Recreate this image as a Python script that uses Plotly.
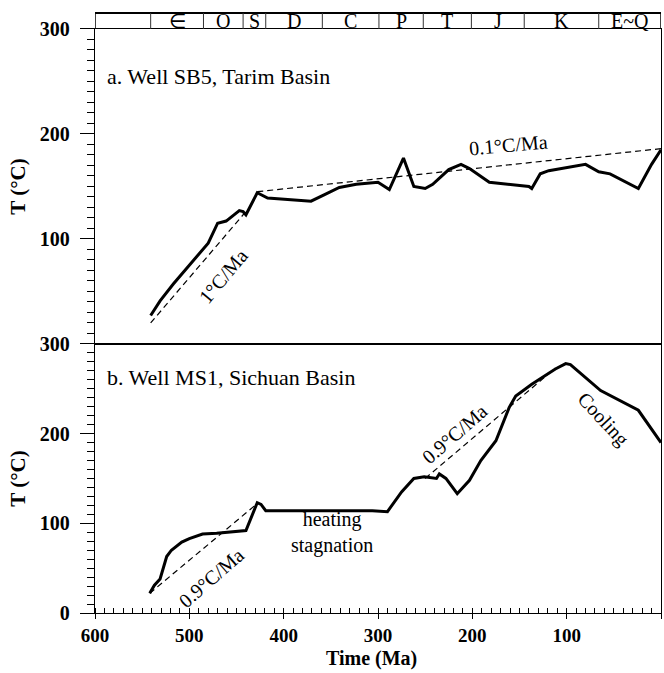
import plotly.graph_objects as go

# Well SB5, Tarim Basin: thermal history (time in Ma, temperature in °C)
sb5_time = [541, 531, 517, 503, 491, 480, 470, 461, 447, 443, 440, 428, 417, 371,
            355, 341, 323, 300, 288, 273, 262, 250, 242, 225, 212, 203, 182, 161,
            140, 137, 128, 119, 101, 80, 66, 54, 24, 10, 0]
sb5_temp = [27, 41, 57, 72, 85, 96, 115, 117, 127, 126, 123, 144, 139, 136,
            143, 149, 152, 154, 147, 177, 150, 148, 152, 166, 171, 167, 154, 152,
            150, 148, 162, 165, 168, 171, 164, 162, 148, 171, 185]

# Well MS1, Sichuan Basin: thermal history
ms1_time = [542, 537, 531, 527, 524, 519, 508, 500, 486, 471, 440, 428, 424, 419,
            376, 306, 290, 275, 262, 251, 238, 235, 228, 216, 203, 191, 175, 165,
            161, 154, 137, 112, 101, 96, 64, 24, 0]
ms1_temp = [22, 31, 38, 51, 63, 70, 79, 83, 88, 89, 92, 123, 121, 114,
            114, 114, 113, 135, 150, 152, 150, 155, 150, 133, 148, 170, 192, 218,
            229, 242, 255, 272, 278, 277, 248, 226, 190]

# Heating-rate trend lines (time, temperature)
sb5_fast_t = [541, 442]
sb5_fast_T = [20, 124]
sb5_slow_t = [428, 0]
sb5_slow_T = [145, 186]
ms1_early_t = [542, 428]
ms1_early_T = [22, 122]
ms1_late_t = [250, 112]
ms1_late_T = [150, 273]

# Geological periods: boundaries (Ma) and labels
period_bounds = [600, 541, 485, 443, 419, 359, 299, 252, 201, 145, 66, 0]
period_labels = ["", "\u2208", "O", "S", "D", "C", "P", "T", "J", "K", "E~Q"]

SERIF = "Liberation Serif, Times New Roman, serif"
BAR_BOTTOM = 0.9734
SPLIT = 0.4485

fig = go.Figure()

curve = dict(color="black", width=3)
dash = dict(color="black", width=1.2, dash="6px,4px")

fig.add_trace(go.Scatter(x=sb5_time, y=sb5_temp, mode="lines", line=curve,
                         xaxis="x2", yaxis="y2"))
fig.add_trace(go.Scatter(x=sb5_fast_t, y=sb5_fast_T, mode="lines", line=dash,
                         xaxis="x2", yaxis="y2"))
fig.add_trace(go.Scatter(x=sb5_slow_t, y=sb5_slow_T, mode="lines", line=dash,
                         xaxis="x2", yaxis="y2"))
fig.add_trace(go.Scatter(x=ms1_time, y=ms1_temp, mode="lines", line=curve,
                         xaxis="x", yaxis="y"))
fig.add_trace(go.Scatter(x=ms1_early_t, y=ms1_early_T, mode="lines", line=dash,
                         xaxis="x", yaxis="y"))
fig.add_trace(go.Scatter(x=ms1_late_t, y=ms1_late_T, mode="lines", line=dash,
                         xaxis="x", yaxis="y"))

tick_font = dict(family=SERIF, size=20, color="black", weight="bold")
xtick_font = dict(family=SERIF, size=19, color="black", weight="bold")
title_font = dict(family=SERIF, size=21, color="black", weight="bold")

yaxis_common = dict(
    range=[0, 300], showline=True, linecolor="black", linewidth=1.3, mirror=True,
    ticks="outside", ticklen=14, tickwidth=1.2, tickcolor="black", ticklabelstandoff=6,
    minor=dict(ticks="outside", dtick=10, tick0=0, ticklen=7, tickwidth=1, tickcolor="black"),
    showgrid=False, zeroline=False, tickfont=tick_font,
    title=dict(text="T (\u00b0C)", font=title_font, standoff=8),
)

fig.update_layout(
    width=664, height=673,
    margin=dict(l=95, r=2, t=11, b=60),
    paper_bgcolor="white", plot_bgcolor="white",
    showlegend=False,
    xaxis=dict(
        range=[600, 0], domain=[0, 1], anchor="y",
        showline=True, linecolor="black", linewidth=1.3, mirror=True,
        tickvals=[600, 500, 400, 300, 200, 100, 0],
        ticks="outside", ticklen=5, tickwidth=1.2, tickcolor="black",
        minor=dict(ticks="inside", dtick=10, tick0=0, ticklen=5, tickwidth=1, tickcolor="black"),
        showgrid=False, zeroline=False, tickfont=xtick_font,
    ),
    xaxis2=dict(
        range=[600, 0], domain=[0, 1], anchor="y2", matches="x",
        showline=True, linecolor="black", linewidth=1.3, mirror=True,
        showticklabels=False, ticks="", showgrid=False, zeroline=False,
    ),
    yaxis=dict(domain=[0, SPLIT], anchor="x", tickvals=[0, 100, 200, 300], **yaxis_common),
    yaxis2=dict(domain=[SPLIT, BAR_BOTTOM], anchor="x2", tickvals=[100, 200, 300], **yaxis_common),
)

# Geological time bar above the top panel
shapes = [dict(type="line", xref="x", yref="paper", x0=600, x1=0, y0=1, y1=1,
               line=dict(color="black", width=2.2)),
          dict(type="line", xref="x", yref="paper", x0=600, x1=600, y0=BAR_BOTTOM, y1=1,
               line=dict(color="black", width=1.5)),
          dict(type="line", xref="x", yref="paper", x0=0, x1=0, y0=BAR_BOTTOM, y1=1,
               line=dict(color="black", width=1.5))]
for b in period_bounds[1:-1]:
    shapes.append(dict(type="line", xref="x", yref="paper", x0=b, x1=b,
                       y0=BAR_BOTTOM, y1=1, line=dict(color="#333", width=1)))
fig.update_layout(shapes=shapes)

annotations = []
for i, lab in enumerate(period_labels):
    if not lab:
        continue
    mid = (period_bounds[i] + period_bounds[i + 1]) / 2
    annotations.append(dict(x=mid, y=(BAR_BOTTOM + 1) / 2, xref="x", yref="paper",
                            text=lab, showarrow=False, yanchor="middle",
                            font=dict(family=SERIF, size=20, color="black")))

title_lab = dict(family=SERIF, size=22, color="black")
note_font = dict(family=SERIF, size=20, color="black")
annotations += [
    dict(x=0.017, y=0.918, xref="paper", yref="paper", text="a. Well SB5, Tarim Basin",
         showarrow=False, xanchor="left", font=title_lab),
    dict(x=0.017, y=0.392, xref="paper", yref="paper", text="b. Well MS1, Sichuan Basin",
         showarrow=False, xanchor="left", font=title_lab),
    dict(x=464, y=65, xref="x2", yref="y2", text="1\u00b0C/Ma", textangle=-50,
         showarrow=False, font=note_font),
    dict(x=162, y=189, xref="x2", yref="y2", text="0.1\u00b0C/Ma", textangle=-5,
         showarrow=False, font=note_font),
    dict(x=477, y=39, xref="x", yref="y", text="0.9\u00b0C/Ma", textangle=-41,
         showarrow=False, font=note_font),
    dict(x=219, y=200, xref="x", yref="y", text="0.9\u00b0C/Ma", textangle=-41,
         showarrow=False, font=note_font),
    dict(x=349, y=90, xref="x", yref="y", text="heating<br>stagnation",
         showarrow=False, font=note_font),
    dict(x=61, y=216, xref="x", yref="y", text="Cooling", textangle=47,
         showarrow=False, font=note_font),
    dict(x=0.488, y=-0.076, xref="paper", yref="paper", text="Time (Ma)",
         showarrow=False, yanchor="middle",
         font=dict(family=SERIF, size=20, color="black", weight="bold")),
]
fig.update_layout(annotations=annotations)

fig.write_html("out.html")
